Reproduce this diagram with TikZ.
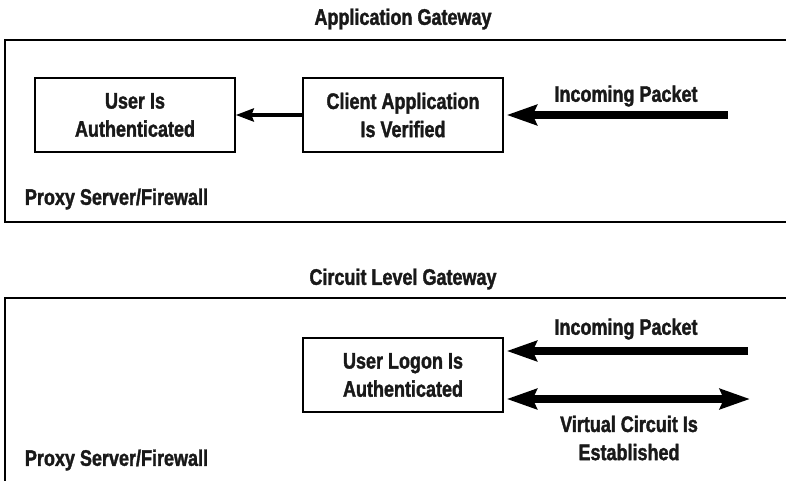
\documentclass[tikz,border=0pt]{standalone}
\usepackage{fontspec}
\setmainfont{Liberation Sans}[FakeStretch=0.8, BoldFeatures={FakeBold=1.6}]
\usetikzlibrary{arrows.meta}

\begin{document}
\begin{tikzpicture}[x=0.025cm, y=-0.025cm,
    every node/.style={font=\bfseries\fontsize{16}{20}\selectfont, text=black!90},
    stepbox/.style={draw, line width=1.2pt, minimum width=5cm, minimum height=1.85cm, align=center, inner sep=0pt},
    frame/.style={line width=2pt},
    thin arrow/.style={line width=2.2pt, -{Stealth[length=0.45cm, width=0.33cm, inset=0.06cm]}},
    fat arrow/.style={line width=5.5pt, -{Stealth[length=0.75cm, width=0.5cm, inset=0.1cm]}},
    fat both/.style={line width=5.5pt, {Stealth[length=0.75cm, width=0.5cm, inset=0.1cm]}-{Stealth[length=0.75cm, width=0.5cm, inset=0.1cm]}}]
    \useasboundingbox (0,0) rectangle (786,480);

    % Application gateway
    \node (apptitle) at (403,19) {Application Gateway};
    \draw[frame] (786,40) -- (5,40) -- (5,222) -- (786,222);
    \node[stepbox] (userauth) at (135,115) {User Is\\Authenticated};
    \node[stepbox] (clientapp) at (403,115) {Client Application\\Is Verified};
    \coordinate (pktA) at (728,115);
    \node (inA) at (626,96) {Incoming Packet};
    \node[anchor=west] (proxyA) at (20,199) {Proxy Server/Firewall};
    \draw[fat arrow, shorten >=2pt] (pktA) -- (clientapp.east);
    \draw[thin arrow] (clientapp.west) -- (userauth.east);

    % Circuit level gateway
    \node (cirtitle) at (403,279) {Circuit Level Gateway};
    \draw[frame] (786,298) -- (5,298) -- (5,481);
    \node[stepbox] (logon) at (403,375) {User Logon Is\\Authenticated};
    \coordinate (pktB) at (748,351);
    \coordinate (vcB) at (750,399);
    \node (inB) at (626,329) {Incoming Packet};
    \node[align=center] (vc) at (629,438) {Virtual Circuit Is\\Established};
    \node[anchor=west] (proxyB) at (20,460) {Proxy Server/Firewall};
    \draw[fat arrow, shorten >=2pt] (pktB) -- (logon.east |- pktB);
    \draw[fat both, shorten <=2pt] (logon.east |- vcB) -- (vcB);
\end{tikzpicture}
\end{document}
